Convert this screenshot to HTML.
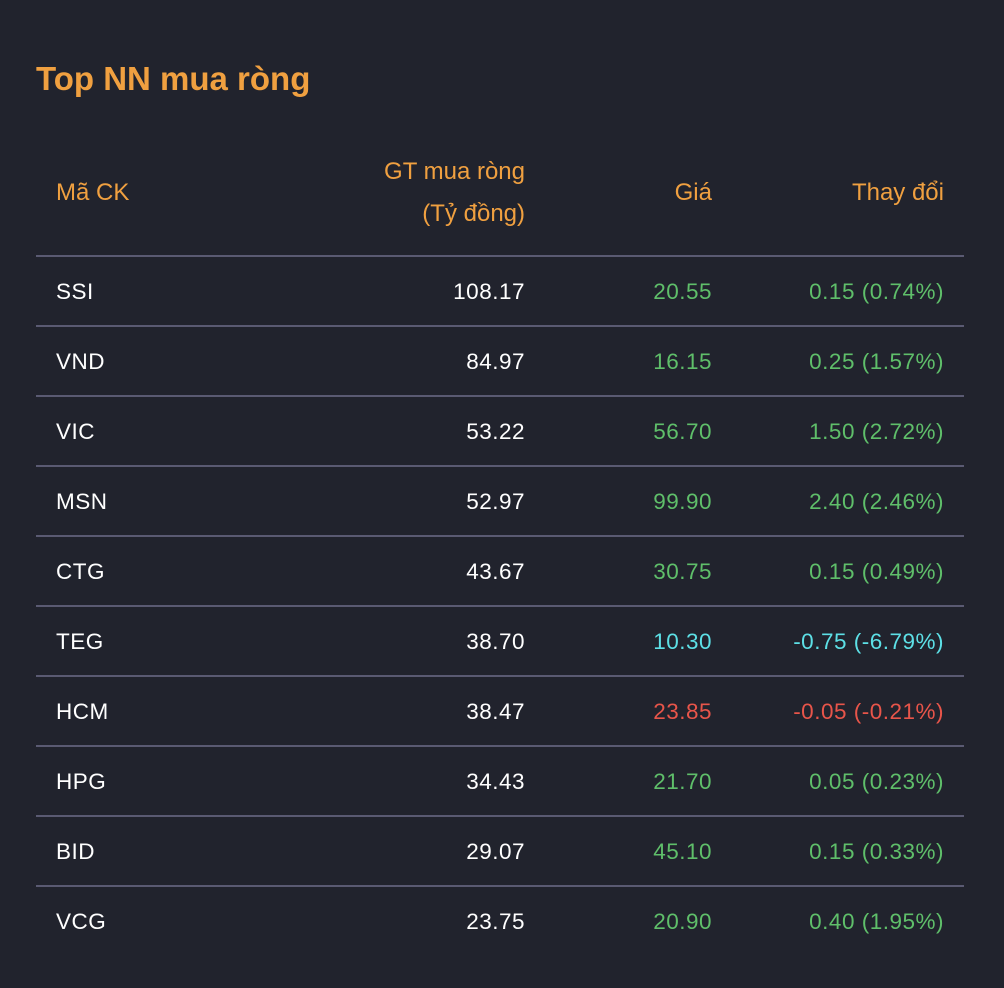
<!DOCTYPE html>
<html><head><meta charset="utf-8"><style>
body{margin:0;width:1004px;height:988px;background:#21232d;font-family:"Liberation Sans",sans-serif;position:relative;overflow:hidden}
.t{position:absolute;white-space:nowrap;line-height:1}
.h{color:#f0a040;font-size:24px}
.line{position:absolute;left:36px;width:928px;height:2px;background:#5a5a72}
.c{font-size:22.5px;letter-spacing:0.5px}
</style></head><body>
<div class="t" style="left:36px;top:62px;font-size:33px;font-weight:bold;color:#f0a040">Top NN mua ròng</div>
<div class="t h" style="left:56px;top:181px">Mã CK</div>
<div class="t h" style="right:479px;top:161px;text-align:right;line-height:42px;margin-top:-10px">GT mua ròng<br>(Tỷ đồng)</div>
<div class="t h" style="right:292px;top:181px">Giá</div>
<div class="t h" style="right:60px;top:181px">Thay đổi</div>
<div class="line" style="top:255px"></div>
<script>
const tickers=["SSI","VND","VIC","MSN","CTG","TEG","HCM","HPG","BID","VCG"];
const values=["108.17","84.97","53.22","52.97","43.67","38.70","38.47","34.43","29.07","23.75"];
const prices=["20.55","16.15","56.70","99.90","30.75","10.30","23.85","21.70","45.10","20.90"];
const changes=["0.15 (0.74%)","0.25 (1.57%)","1.50 (2.72%)","2.40 (2.46%)","0.15 (0.49%)","-0.75 (-6.79%)","-0.05 (-0.21%)","0.05 (0.23%)","0.15 (0.33%)","0.40 (1.95%)"];
const colorFor=i=>tickers[i]==="TEG"?"#5de0e6":(changes[i][0]==="-"?"#e8554a":"#5fbf6a");
for(let i=0;i<tickers.length;i++){
  const cy=291+i*70;
  const mk=(txt,style,name,col)=>{const d=document.createElement('div');d.className='t c';d.textContent=txt;d.style.cssText=style+';top:'+(cy-10)+'px;color:'+col;
  
  
  document.body.appendChild(d);};
  mk(tickers[i],'left:56px','ticker-cell','#ffffff');
  mk(values[i],'right:479px','net-buy-cell','#ffffff');
  mk(prices[i],'right:292px','price-cell',colorFor(i));
  mk(changes[i],'right:60px','change-cell',colorFor(i));
  if(i<tickers.length-1){const l=document.createElement('div');l.className='line';l.style.top=(cy+34)+'px';
  
  
  document.body.appendChild(l);}
}
</script>
</body></html>
